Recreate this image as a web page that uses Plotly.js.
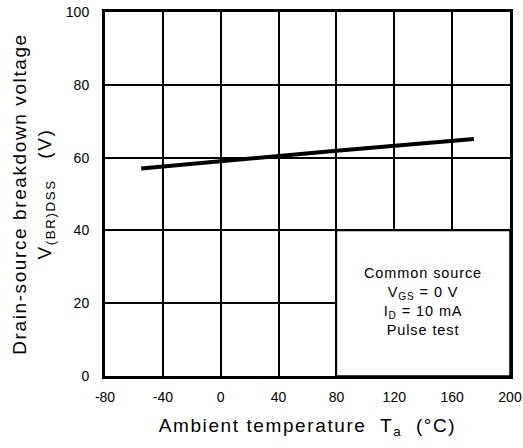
<!DOCTYPE html>
<html><head><meta charset="utf-8">
<script src="https://cdn.plot.ly/plotly-3.0.1.min.js"></script>
<style>
body{margin:0;background:#fff}#c{width:523px;height:448px}
.g-xtitle text, .g-ytitle text {letter-spacing: 1.6px;}
.annotation-text {letter-spacing: 0.9px;}
</style>
</head><body><div id="c"></div>
<script>
const temperature = [-55, 0, 80, 175];
const breakdownV = [57, 59.1, 61.9, 65.1];
const xTicks = [-80, -40, 0, 40, 80, 120, 160, 200];
const yTicks = [0, 20, 40, 60, 80, 100];
const noteLines = ["Common source", "V<sub>GS</sub> = 0 V", "I<sub>D</sub> = 10 mA", "Pulse test"];

const font = {family: "Liberation Sans, Arial, sans-serif", color: "#000"};
const trace = {x: temperature, y: breakdownV, mode: "lines", line: {color: "#000", width: 4}, hoverinfo: "skip"};
const layout = {
  width: 523, height: 448,
  margin: {l: 105, r: 13, t: 12, b: 72},
  paper_bgcolor: "#fff", plot_bgcolor: "#fff",
  showlegend: false,
  font: font,
  xaxis: {
    range: [-80, 200], tickvals: xTicks, ticktext: xTicks.map(String),
    showgrid: true, gridcolor: "#000", gridwidth: 2, zeroline: false,
    showline: true, mirror: true, linecolor: "#000", linewidth: 3,
    ticks: "outside", ticklen: 6, tickcolor: "rgba(0,0,0,0)",
    tickfont: {family: font.family, size: 14, color: "#000"},
    title: {text: "Ambient temperature  T<sub>a</sub>  (°C)", font: {family: font.family, size: 19, color: "#000"}, standoff: 15}
  },
  yaxis: {
    range: [0, 100], tickvals: yTicks, ticktext: yTicks.map(String),
    showgrid: true, gridcolor: "#000", gridwidth: 2, zeroline: false,
    showline: true, mirror: true, linecolor: "#000", linewidth: 3,
    ticks: "outside", ticklen: 10, tickcolor: "rgba(0,0,0,0)",
    tickfont: {family: font.family, size: 14, color: "#000"},
    title: {text: "Drain-source breakdown voltage<br>V<sub>(BR)DSS</sub>   (V)", font: {family: font.family, size: 19, color: "#000"}, standoff: 10}
  },
  shapes: [{type: "rect", xref: "x", yref: "y", x0: 80, x1: 200, y0: 0, y1: 40,
    fillcolor: "#fff", line: {color: "#000", width: 1.5}, layer: "above"}],
  annotations: [{xref: "x", yref: "y", x: 140, y: 20.5, showarrow: false,
    text: noteLines.join("<br>"), align: "center",
    font: {family: font.family, size: 14.5, color: "#000"}}]
};
Plotly.newPlot("c", [trace], layout, {staticPlot: true, displayModeBar: false});
</script></body></html>
